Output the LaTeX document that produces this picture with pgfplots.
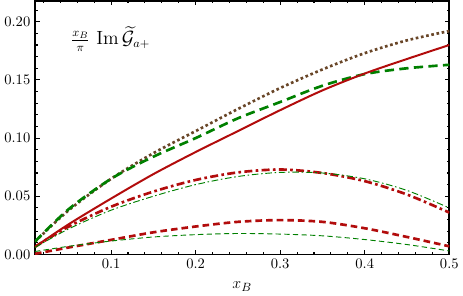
\documentclass[border=0pt]{standalone}
\usepackage{pgfplots}
\pgfplotsset{compat=1.18}
\usepackage{amsmath}
\definecolor{cred}{RGB}{178,12,12}
\definecolor{cgreen}{RGB}{0,128,0}
\definecolor{cbrown}{RGB}{105,70,40}
\begin{document}
\begin{tikzpicture}
\begin{axis}[
  scale only axis,
  width=312pt, height=191pt,
  xmin=0.01, xmax=0.5, ymin=0, ymax=0.218,
  xtick={0.1,0.2,0.3,0.4,0.5},
  ytick={0,0.05,0.1,0.15,0.2},
  minor xtick={0.02,0.04,...,0.5},
  minor ytick={0.01,0.02,...,0.21},
  tick align=inside,
  major tick length=3.5pt, minor tick length=2pt,
  every tick/.style={black, line width=0.8pt},
  axis line style={line width=1.2pt},
  xticklabel style={/pgf/number format/fixed, /pgf/number format/precision=1},
  yticklabel style={/pgf/number format/fixed, /pgf/number format/fixed zerofill, /pgf/number format/precision=2},
  tick label style={font=\fontsize{11}{13}\selectfont},
  xlabel={$x_B$},
  xlabel style={font=\fontsize{12.5}{14}\selectfont, yshift=-3pt},
  clip=true,
]
% brown dotted
\addplot[cbrown, line width=2pt, dotted, smooth] coordinates {
(0.01,0.011)(0.05,0.038)(0.1,0.065)(0.15,0.087)(0.2,0.106)(0.25,0.125)(0.3,0.143)(0.35,0.159)(0.4,0.173)(0.45,0.184)(0.5,0.192)};
% green thick dashed
\addplot[cgreen, line width=2pt, dash pattern=on 7pt off 4pt, smooth] coordinates {
(0.01,0.011)(0.05,0.039)(0.1,0.065)(0.15,0.084)(0.2,0.100)(0.25,0.117)(0.3,0.131)(0.35,0.145)(0.4,0.155)(0.45,0.160)(0.5,0.163)};
% red solid
\addplot[cred, line width=1.5pt, smooth] coordinates {
(0.01,0.0065)(0.05,0.026)(0.1,0.048)(0.15,0.069)(0.2,0.088)(0.25,0.106)(0.3,0.124)(0.35,0.141)(0.4,0.1555)(0.45,0.168)(0.5,0.180)};
% red thick dash-dot
\addplot[cred, line width=2pt, dash pattern=on 6pt off 2.5pt on 2pt off 2.5pt, smooth] coordinates {
(0.01,0.0065)(0.05,0.024)(0.1,0.041)(0.15,0.054)(0.2,0.064)(0.25,0.0705)(0.3,0.073)(0.35,0.070)(0.4,0.063)(0.45,0.0515)(0.5,0.036)};
% green thin dash-dot
\addplot[cgreen, line width=0.7pt, dash pattern=on 5pt off 2pt on 1.2pt off 2pt, smooth] coordinates {
(0.01,0.006)(0.05,0.022)(0.1,0.038)(0.15,0.050)(0.2,0.060)(0.25,0.067)(0.3,0.0705)(0.35,0.070)(0.4,0.065)(0.45,0.055)(0.5,0.040)};
% red thick dashed
\addplot[cred, line width=2pt, dash pattern=on 5pt off 3pt, smooth] coordinates {
(0.01,0.0005)(0.05,0.006)(0.1,0.0125)(0.15,0.019)(0.2,0.024)(0.25,0.028)(0.3,0.0295)(0.35,0.028)(0.4,0.0225)(0.45,0.015)(0.5,0.007)};
% green thin dashed
\addplot[cgreen, line width=0.7pt, dash pattern=on 4pt off 2.5pt, smooth] coordinates {
(0.01,0.0025)(0.05,0.007)(0.1,0.0115)(0.15,0.015)(0.2,0.017)(0.25,0.018)(0.3,0.0175)(0.35,0.016)(0.4,0.0128)(0.45,0.0085)(0.5,0.003)};
\node[anchor=west, font=\fontsize{13.5}{15}\selectfont] at (rel axis cs:0.075,0.85)
  {$\frac{x_B}{\pi}\,\operatorname{Im}\widetilde{\mathcal{G}}_{a+}$};
\end{axis}
\end{tikzpicture}
\end{document}
